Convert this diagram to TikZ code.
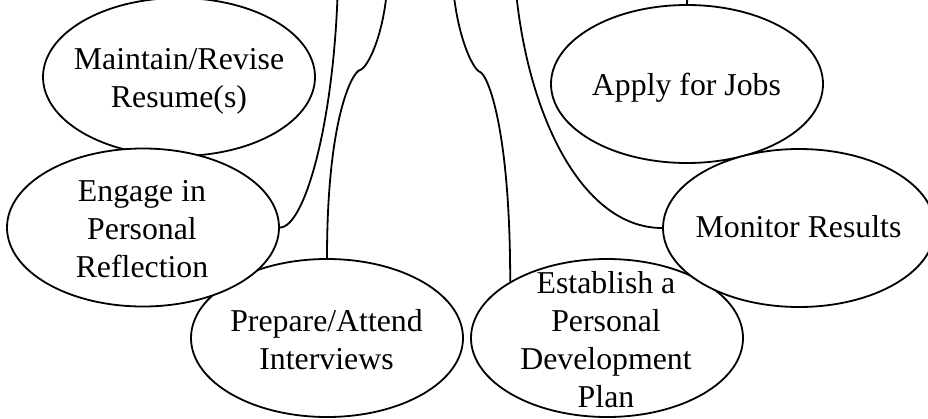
\documentclass[tikz,border=0pt]{standalone}
\usepackage{fontspec}
\setmainfont{Liberation Serif}
\usetikzlibrary{shapes.geometric}
\pgfdeclarelayer{back}
\pgfdeclarelayer{conn}
\pgfsetlayers{back,conn,main}
\begin{document}
\begin{tikzpicture}[x=1pt,y=-1pt,
  oval/.style={ellipse, draw, line width=1.8pt, fill=white, inner sep=0pt,
               minimum width=272pt, minimum height=158pt},
  lbl/.style={align=center, inner sep=0pt, font=\fontsize{31.8pt}{38pt}\selectfont},
  conn/.style={line width=1.8pt}]
\useasboundingbox (0,0) rectangle (928,418);
\begin{pgfonlayer}{back}
\fill[white] (0,0) rectangle (928,418);
\end{pgfonlayer}
% free ends of the connectors, above the visible frame
\coordinate (tA) at (338,-20);
\coordinate (tB) at (388,-30);
\coordinate (kB) at (360,70);
\coordinate (tC) at (452,-30);
\coordinate (kC) at (480,72);
\coordinate (tD) at (515,-20);
\coordinate (tE) at (688,-20);
% ellipses (drawing order gives the overlaps)
\node[oval] (e1) at (179,77) {};
\node[oval] (e3) at (327,338) {};
\node[oval] (e2) at (143,227.5) {};
\node[oval] (e4) at (687,84) {};
\node[oval] (e6) at (607,338) {};
\node[oval] (e5) at (799,228) {};
% connectors
\begin{pgfonlayer}{conn}
\draw[conn] (tA) .. controls +(-3,140) and +(25,0) .. (e2.east);
\draw[conn] (tB) .. controls +(-1,60) and +(8,-2) .. (kB)
                 .. controls +(-8,2) and +(0,-139) .. (e3.north);
\draw[conn] (tC) .. controls +(2,60) and +(-8,-3) .. (kC)
                 .. controls +(8,3) and +(0,-152) .. (e6.north west);
\draw[conn] (tD) .. controls +(10,130) and +(-82,0) .. (e5.west);
\draw[conn] (tE) -- (e4.north);
\end{pgfonlayer}
% texts
\node[lbl] (t1) at (179,81) {Maintain/Revise\\Resume(s)};
\node[lbl] (t2) at (142,229.5) {Engage in\\Personal\\Reflection};
\node[lbl] (t3) at (326.5,340) {Prepare/Attend\\Interviews};
\node[lbl] (t4) at (686.5,87.5) {Apply for Jobs};
\node[lbl] (t5) at (798.5,227) {Monitor Results};
\node[lbl] (t6) at (606,339.5) {Establish a\\Personal\\Development\\Plan};
\end{tikzpicture}
\end{document}
